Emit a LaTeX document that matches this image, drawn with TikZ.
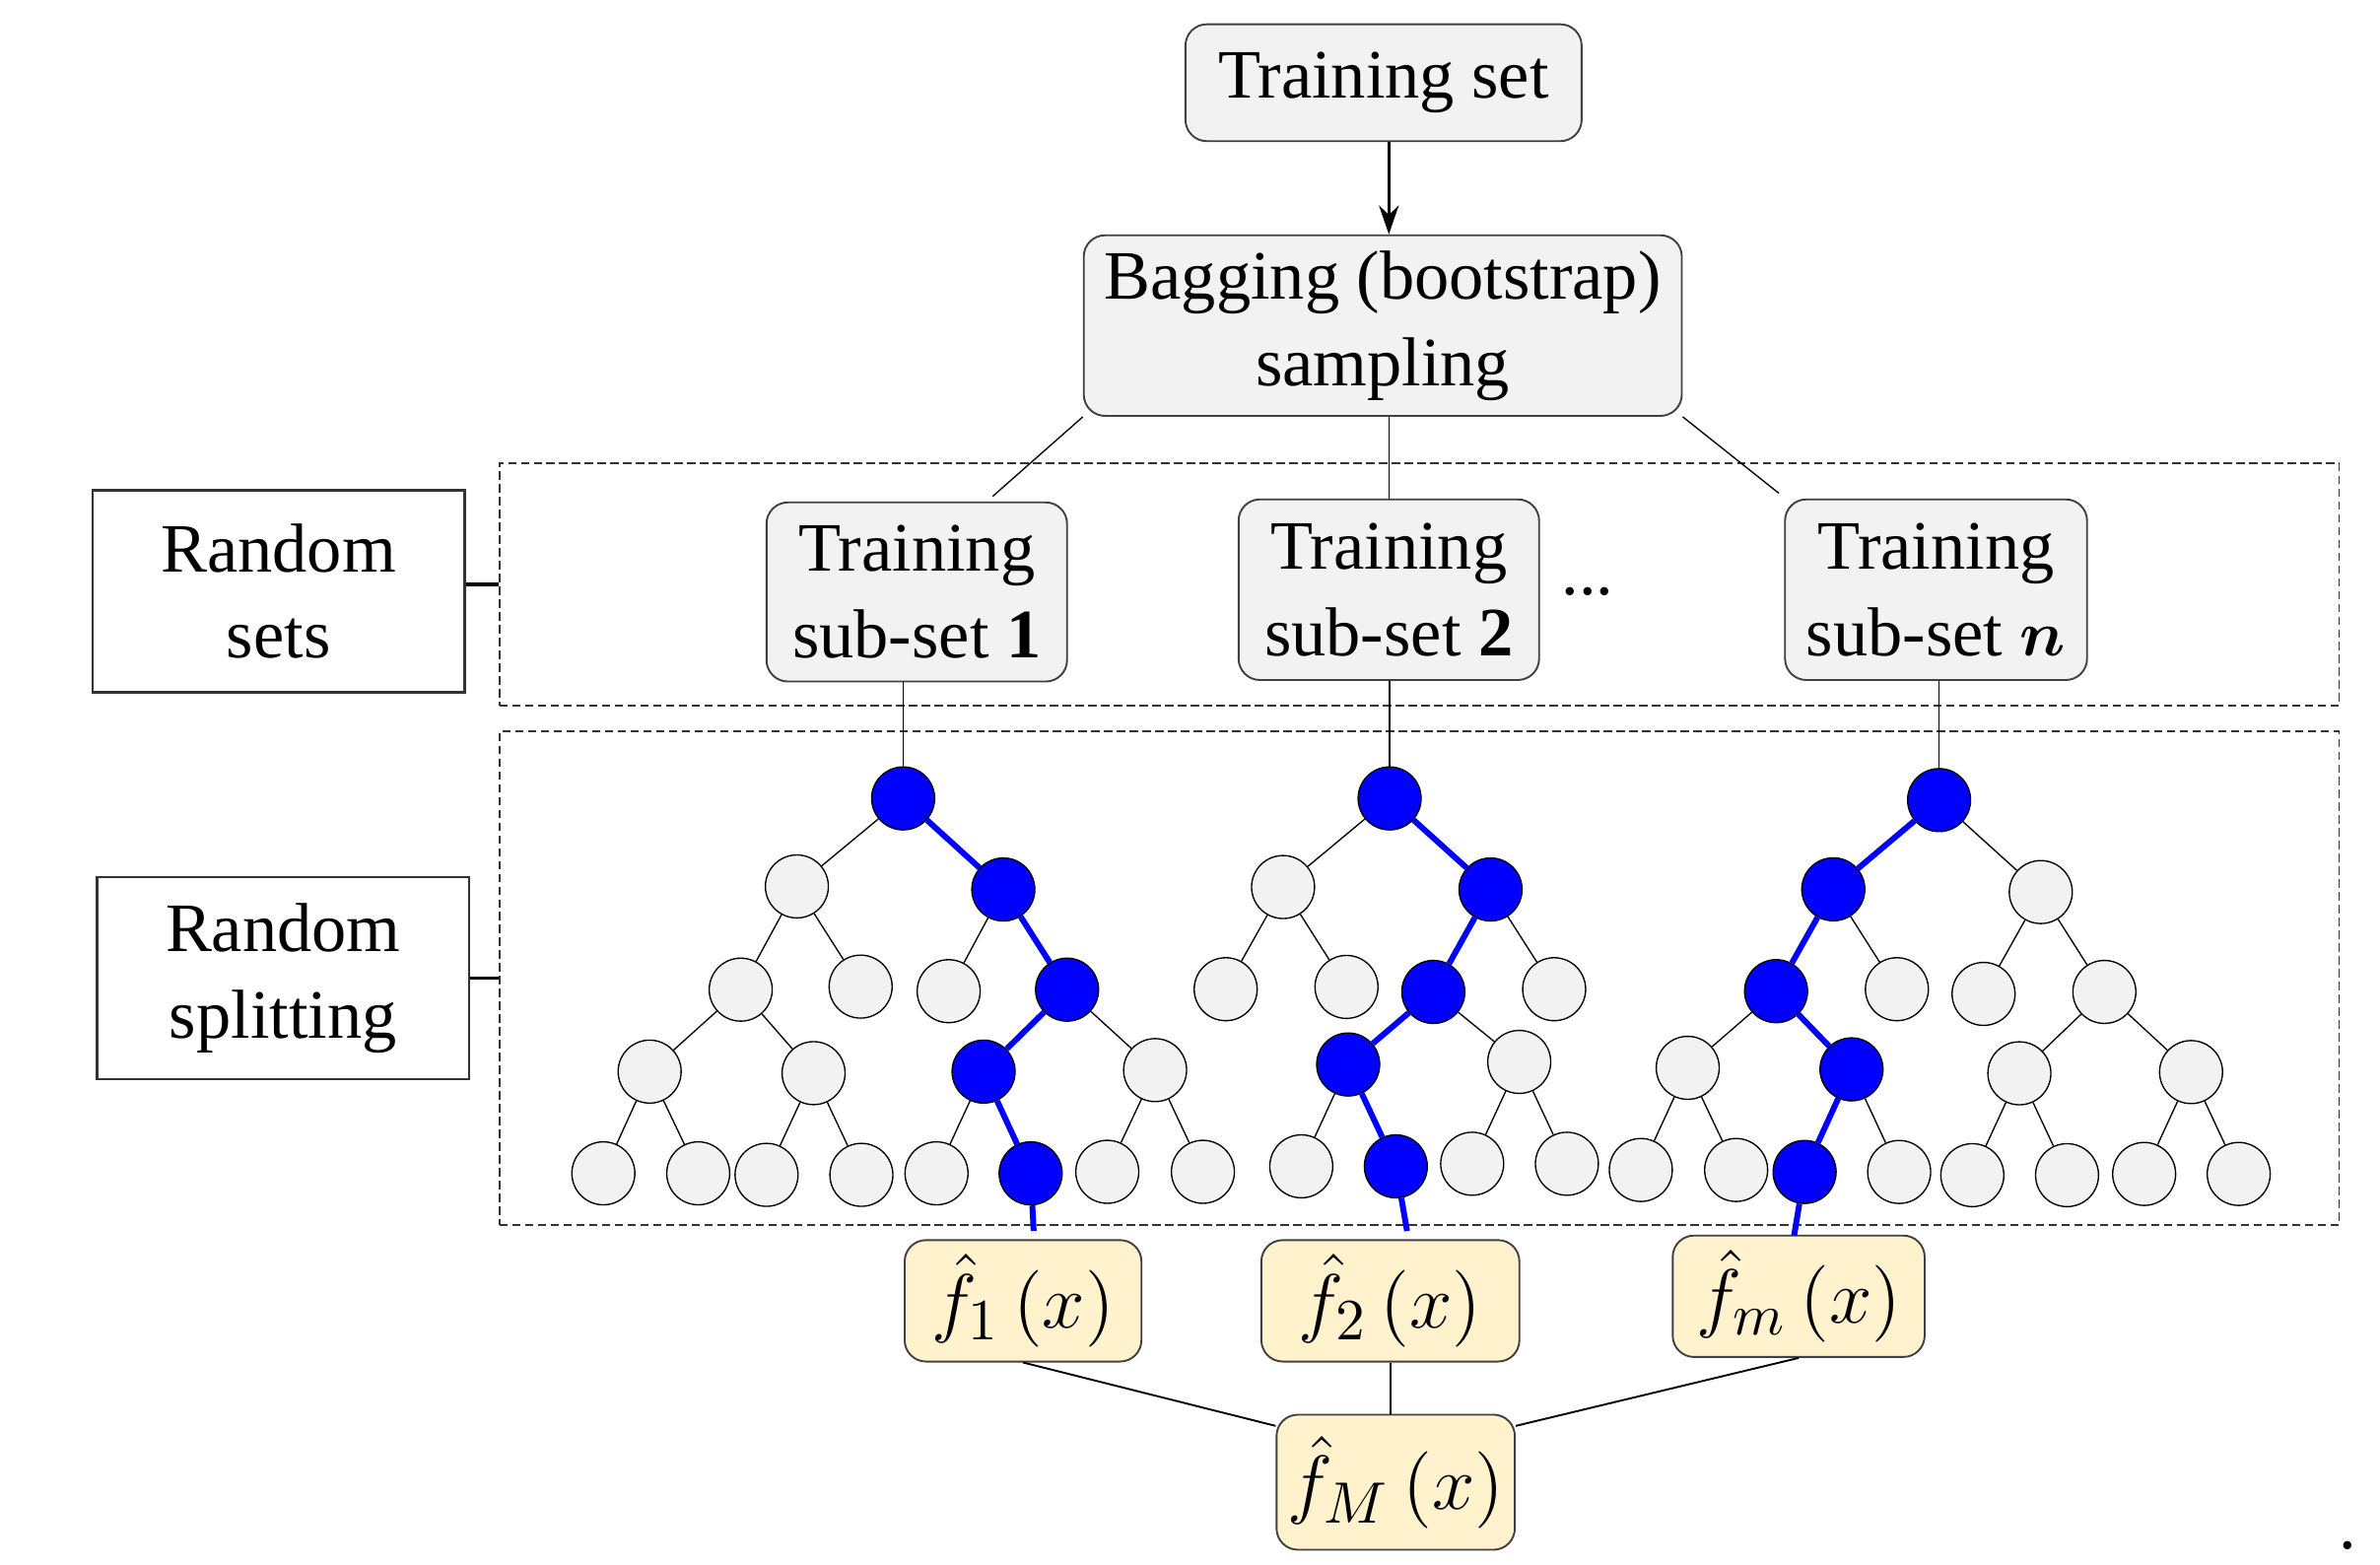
\documentclass[tikz,border=0pt]{standalone}
\usepackage{amsmath}
\usepackage{bm}
\usepackage{fontspec}
\setmainfont{Liberation Serif}
\usepackage{tikz}
\usetikzlibrary{arrows.meta, positioning, calc}
\definecolor{cPanel}{RGB}{242,242,242}
\definecolor{cYellow}{RGB}{255,242,204}
\definecolor{cPath}{RGB}{0,0,255}
\tikzset{
	setbox/.style   ={rectangle, rounded corners=4pt, draw=black!75, line width=0.35pt, fill=cPanel, align=center, inner sep=0pt},
	sidebox/.style  ={rectangle, draw=black!80, line width=0.45pt, align=center, minimum width=2.45cm, minimum height=1.33cm},
	dashpanel/.style={rectangle, draw=black!80, line width=0.35pt, dash pattern=on 1.6pt off 0.8pt, minimum width=12.12cm, inner sep=0pt},
	outbox/.style   ={rectangle, rounded corners=4pt, draw=black!75, line width=0.35pt, fill=cYellow, inner sep=0pt, minimum height=0.8cm, font=\fontsize{15}{18}\selectfont},
	leaf/.style     ={circle, draw=black, line width=0.25pt, fill=cPanel, minimum size=0.415cm, inner sep=0pt},
	hot/.style      ={circle, draw=black, line width=0.25pt, fill=cPath, minimum size=0.415cm, inner sep=0pt},
	link/.style     ={line width=0.25pt},
	hotlink/.style  ={cPath, line width=1.1pt},
	downarrow/.style={-{Stealth[length=1.9mm, width=1.3mm]}, line width=0.5pt},
}
\begin{document}
\begin{tikzpicture}[font=\fontsize{13}{16.2}\selectfont]
	\useasboundingbox (0,0) rectangle (15.68,-10.31);
	\node[dashpanel, minimum height=1.60cm] (grpsets) at (9.35,-3.85) {};
	\node[dashpanel, minimum height=3.25cm] (grpsplit) at (9.35,-6.445) {};
	\node[sidebox] (lsets) at (1.835,-3.895) {Random\\sets};
	\node[sidebox] (lsplit) at (1.865,-6.445) {Random\\splitting};
	\draw[line width=0.6pt] (grpsets.west -| lsets.east) -- (grpsets.west);
	\draw[line width=0.6pt] (grpsplit.west -| lsplit.east) -- (grpsplit.west);

	\node[setbox, minimum width=2.61cm, minimum height=0.77cm] (tset) at (9.115,-0.545) {Training set};
	\node[setbox, minimum width=3.94cm, minimum height=1.19cm] (bag) at (9.11,-2.145) {Bagging (bootstrap)\\sampling};
	\node[setbox, minimum width=1.98cm, minimum height=1.18cm] (sub1) at (6.04,-3.90) {Training\\sub-set $\mathbf{1}$};
	\node[setbox, minimum width=1.98cm, minimum height=1.19cm] (sub2) at (9.15,-3.885) {Training\\sub-set $\mathbf{2}$};
	\node[setbox, minimum width=1.99cm, minimum height=1.19cm] (subn) at (12.755,-3.885) {Training\\sub-set $\bm{n}$};
	\node (dots) at (10.46,-3.90) {...};
	\draw[downarrow] (tset.south -| sub2.north) -- (bag.north -| sub2.north);
	\coordinate (k1) at (6.54,-3.27);
	\coordinate (k3) at (11.72,-3.25);
	\draw[link] (bag.south west) -- (k1);
	\draw[link] (bag.south -| sub2.north) -- (sub2.north);
	\draw[link] (bag.south east) -- (k3);

	\node[hot]  (a0)  at (5.95,-5.26) {};
	\node[leaf] (a1)  at (5.25,-5.84) {};   \node[hot]  (a2)  at (6.61,-5.86) {};
	\node[leaf] (a3)  at (4.88,-6.52) {};   \node[leaf] (a4)  at (5.67,-6.50) {};
	\node[leaf] (a5)  at (6.25,-6.53) {};   \node[hot]  (a6)  at (7.03,-6.52) {};
	\node[leaf] (a7)  at (4.28,-7.06) {};   \node[leaf] (a8)  at (5.36,-7.07) {};
	\node[hot]  (a9)  at (6.48,-7.06) {};   \node[leaf] (a10) at (7.61,-7.05) {};
	\node[leaf] (a11) at (3.975,-7.73) {};  \node[leaf] (a12) at (4.60,-7.73) {};
	\node[leaf] (a13) at (5.05,-7.74) {};   \node[leaf] (a14) at (5.675,-7.74) {};
	\node[leaf] (a15) at (6.17,-7.73) {};   \node[hot]  (a16) at (6.79,-7.73) {};
	\node[leaf] (a17) at (7.295,-7.72) {};  \node[leaf] (a18) at (7.925,-7.72) {};

	\node[hot]  (b0)  at (9.155,-5.26) {};
	\node[leaf] (b1)  at (8.453,-5.844) {}; \node[hot]  (b2)  at (9.82,-5.86) {};
	\node[leaf] (b3)  at (8.075,-6.517) {}; \node[leaf] (b4)  at (8.871,-6.502) {};
	\node[hot]  (b5)  at (9.443,-6.535) {}; \node[leaf] (b6)  at (10.239,-6.517) {};
	\node[hot]  (b7)  at (8.882,-7.013) {}; \node[leaf] (b8)  at (10.009,-6.996) {};
	\node[leaf] (b9)  at (8.573,-7.684) {}; \node[hot]  (b10) at (9.196,-7.684) {};
	\node[leaf] (b11) at (9.699,-7.667) {}; \node[leaf] (b12) at (10.323,-7.667) {};

	\node[hot]  (c0)  at (12.775,-5.271) {};
	\node[hot]  (c1)  at (12.078,-5.859) {}; \node[leaf] (c2)  at (13.445,-5.877) {};
	\node[hot]  (c3)  at (11.701,-6.53) {};  \node[leaf] (c4)  at (12.497,-6.517) {};
	\node[leaf] (c5)  at (13.068,-6.548) {}; \node[leaf] (c6)  at (13.864,-6.535) {};
	\node[leaf] (c7)  at (11.119,-7.035) {}; \node[hot]  (c8)  at (12.198,-7.045) {};
	\node[leaf] (c9)  at (13.304,-7.071) {}; \node[leaf] (c10) at (14.435,-7.063) {};
	\node[leaf] (c11) at (10.81,-7.708) {};  \node[leaf] (c12) at (11.438,-7.708) {};
	\node[hot]  (c13) at (11.889,-7.721) {}; \node[leaf] (c14) at (12.512,-7.721) {};
	\node[leaf] (c15) at (12.994,-7.742) {}; \node[leaf] (c16) at (13.618,-7.742) {};
	\node[leaf] (c17) at (14.126,-7.734) {}; \node[leaf] (c18) at (14.749,-7.734) {};

	\draw[link] (sub1.south -| a0) -- (a0); \draw[link] (sub2.south -| b0) -- (b0); \draw[link] (subn.south -| c0) -- (c0);
	\draw[link] (a0) -- (a1); \draw[link] (a1) -- (a3); \draw[link] (a1) -- (a4); \draw[link] (a2) -- (a5);
	\draw[link] (a6) -- (a10); \draw[link] (a3) -- (a7); \draw[link] (a3) -- (a8); \draw[link] (a9) -- (a15);
	\draw[link] (a10) -- (a17); \draw[link] (a10) -- (a18); \draw[link] (a7) -- (a11); \draw[link] (a7) -- (a12);
	\draw[link] (a8) -- (a13); \draw[link] (a8) -- (a14);
	\draw[link] (b0) -- (b1); \draw[link] (b1) -- (b3); \draw[link] (b1) -- (b4); \draw[link] (b2) -- (b6);
	\draw[link] (b5) -- (b8); \draw[link] (b7) -- (b9); \draw[link] (b8) -- (b11); \draw[link] (b8) -- (b12);
	\draw[link] (c0) -- (c2); \draw[link] (c1) -- (c4); \draw[link] (c2) -- (c5); \draw[link] (c2) -- (c6);
	\draw[link] (c3) -- (c7); \draw[link] (c6) -- (c9); \draw[link] (c6) -- (c10); \draw[link] (c7) -- (c11);
	\draw[link] (c7) -- (c12); \draw[link] (c8) -- (c14); \draw[link] (c9) -- (c15); \draw[link] (c9) -- (c16);
	\draw[link] (c10) -- (c17); \draw[link] (c10) -- (c18);

	\node[outbox, minimum width=1.56cm] (f1) at (6.74,-8.57) {$\hat{f}_{1}\,(x)$};
	\node[outbox, minimum width=1.70cm] (f2) at (9.16,-8.57) {$\hat{f}_{2}\,(x)$};
	\node[outbox, minimum width=1.66cm] (fm) at (11.85,-8.54) {$\hat{f}_{m}\,(x)$};
	\node[outbox, minimum width=1.57cm, minimum height=0.89cm] (fM) at (9.195,-9.765) {$\hat{f}_{M}\,(x)$};
	\coordinate (e1) at (6.81,-8.11);
	\coordinate (e2) at (9.27,-8.11);
	\coordinate (e3) at (11.82,-8.14);
	\draw[hotlink] (a0) -- (a2); \draw[hotlink] (a2) -- (a6); \draw[hotlink] (a6) -- (a9); \draw[hotlink] (a9) -- (a16); \draw[hotlink] (a16) -- (e1);
	\draw[hotlink] (b0) -- (b2); \draw[hotlink] (b2) -- (b5); \draw[hotlink] (b5) -- (b7); \draw[hotlink] (b7) -- (b10); \draw[hotlink] (b10) -- (e2);
	\draw[hotlink] (c0) -- (c1); \draw[hotlink] (c1) -- (c3); \draw[hotlink] (c3) -- (c8); \draw[hotlink] (c8) -- (c13); \draw[hotlink] (c13) -- (e3);
	\draw[link, line width=0.35pt] (f1.south) -- ([yshift=-0.08cm]fM.north west);
	\draw[link, line width=0.35pt] (f2.south) -- (f2.south |- fM.north);
	\draw[link, line width=0.35pt] (fm.south) -- ([yshift=-0.08cm]fM.north east);
	\node (stop) at (15.47,-10.18) {.};
\end{tikzpicture}
\end{document}
